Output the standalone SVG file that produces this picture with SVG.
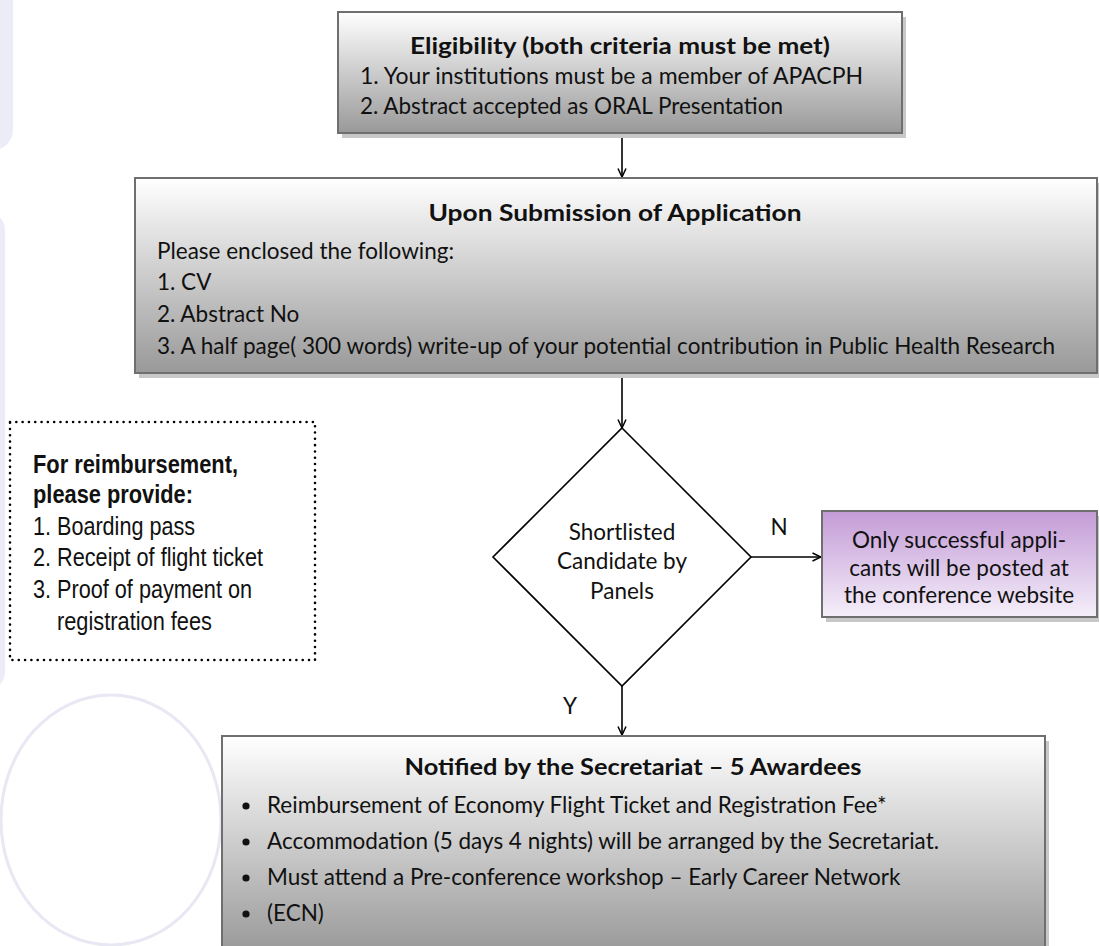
<svg xmlns="http://www.w3.org/2000/svg" width="1099" height="946" viewBox="0 0 1099 946">
<style>
.bg{fill:#ececf6}
.ring{fill:none;stroke:#e8e8f4;stroke-width:3}
.box{stroke:#6f6f6f;stroke-width:2}
.shadow{fill:#c8c8c8}
.t{font-family:Lato,'Noto Sans',sans-serif;font-size:22.5px;fill:#111}
.b{font-weight:bold;font-size:23px}
.c{text-anchor:middle}
.conn{stroke:#000;stroke-width:1.6;fill:none}
.note{fill:none;stroke:#000;stroke-width:2.6;stroke-dasharray:0.01 6.3;stroke-linecap:round}
.ar{font-family:'Liberation Sans Narrow','Liberation Sans',Arial,sans-serif;font-size:26px;fill:#111}
</style>
<defs>
<linearGradient id="gray" x1="0" y1="0" x2="0" y2="1">
<stop offset="0" stop-color="#ffffff"/>
<stop offset="1" stop-color="#999999"/>
</linearGradient>
<linearGradient id="gray3" gradientUnits="userSpaceOnUse" x1="0" y1="736" x2="0" y2="946">
<stop offset="0" stop-color="#ffffff"/>
<stop offset="1" stop-color="#9c9c9c"/>
</linearGradient>
<linearGradient id="purple" x1="0" y1="0" x2="0" y2="1">
<stop offset="0" stop-color="#c39bd6"/>
<stop offset="1" stop-color="#f5effa"/>
</linearGradient>
<marker id="arr" viewBox="0 0 10 10" refX="9.5" refY="5" markerWidth="10" markerHeight="10" markerUnits="userSpaceOnUse" orient="auto">
<path d="M1,1 L9.5,5 L1,9" fill="none" stroke="#000" stroke-width="1.5"/>
</marker>
</defs>

<g id="background">
<rect class="bg" x="-30" y="-30" width="43" height="180" rx="20"/>
<rect class="bg" x="-30" y="212" width="35" height="478" rx="18"/>
<ellipse class="ring" cx="111" cy="820" rx="110" ry="125"/>
</g>

<g id="connectors">
<line class="conn" x1="622" y1="133" x2="622" y2="177" marker-end="url(#arr)"/>
<line class="conn" x1="622" y1="373" x2="622" y2="428" marker-end="url(#arr)"/>
<line class="conn" x1="751" y1="557" x2="821" y2="557" marker-end="url(#arr)"/>
<line class="conn" x1="622" y1="686" x2="622" y2="735" marker-end="url(#arr)"/>
<text class="t" x="779" y="535" text-anchor="middle">N</text>
<text class="t" x="570" y="714" text-anchor="middle">Y</text>
</g>

<g id="eligibility">
<rect class="shadow" x="342" y="17" width="564" height="121"/>
<rect class="box" x="338" y="12" width="564" height="121" fill="url(#gray)"/>
<text class="t b c" x="620" y="54" textLength="420" lengthAdjust="spacingAndGlyphs">Eligibility (both criteria must be met)</text>
<text class="t" x="360" y="84" textLength="503" lengthAdjust="spacingAndGlyphs">1. Your institutions  must be a member of APACPH</text>
<text class="t" x="360" y="114" textLength="423" lengthAdjust="spacingAndGlyphs">2. Abstract accepted as ORAL Presentation</text>
</g>

<g id="submission">
<rect class="shadow" x="139" y="183" width="962" height="195"/>
<rect class="box" x="135" y="178" width="962" height="195" fill="url(#gray)"/>
<text class="t b c" x="615" y="221" textLength="373" lengthAdjust="spacingAndGlyphs">Upon Submission of Application</text>
<text class="t" x="157" y="259">Please enclosed the following:</text>
<text class="t" x="157" y="290">1. CV</text>
<text class="t" x="157" y="322">2. Abstract No</text>
<text class="t" x="157" y="354" textLength="898" lengthAdjust="spacingAndGlyphs">3. A half page( 300 words) write-up of your potential contribution in Public Health Research</text>
</g>

<g id="decision">
<polygon points="622,428 751,557 622,686 493,557" fill="#ffffff" stroke="#000" stroke-width="1.6"/>
<text class="t c" x="622" y="540" font-size="23">Shortlisted</text>
<text class="t c" x="622" y="569" font-size="23">Candidate by</text>
<text class="t c" x="622" y="599" font-size="23">Panels</text>
</g>

<g id="unsuccessful">
<rect class="shadow" x="826" y="516" width="275" height="106"/>
<rect class="box" x="822" y="511" width="275" height="106" fill="url(#purple)"/>
<text class="t c" x="959" y="548">Only successful appli-</text>
<text class="t c" x="959" y="576">cants will be posted at</text>
<text class="t c" x="959" y="603">the conference website</text>
</g>

<g id="reimbursement">
<rect class="note" x="10" y="422" width="305" height="238"/>
<text class="ar b" x="33" y="473" font-size="26" textLength="205" lengthAdjust="spacingAndGlyphs">For reimbursement,</text>
<text class="ar b" x="33" y="503" font-size="26" textLength="160" lengthAdjust="spacingAndGlyphs">please provide:</text>
<text class="ar" x="33" y="535" textLength="162" lengthAdjust="spacingAndGlyphs">1. Boarding pass</text>
<text class="ar" x="33" y="566" textLength="230" lengthAdjust="spacingAndGlyphs">2. Receipt of flight ticket</text>
<text class="ar" x="33" y="598" textLength="219" lengthAdjust="spacingAndGlyphs">3. Proof of payment on</text>
<text class="ar" x="57" y="630" textLength="155" lengthAdjust="spacingAndGlyphs">registration fees</text>
</g>

<g id="awardees">
<rect class="shadow" x="226" y="741" width="823" height="230"/>
<rect class="box" x="222" y="736" width="823" height="230" fill="url(#gray3)"/>
<text class="t b c" x="633" y="775" textLength="457" lengthAdjust="spacingAndGlyphs">Notified by the Secretariat – 5 Awardees</text>
<circle cx="246" cy="806" r="3.6" fill="#111"/>
<text class="t" x="267" y="813">Reimbursement of  Economy Flight Ticket and Registration Fee*</text>
<circle cx="246" cy="842" r="3.6" fill="#111"/>
<text class="t" x="267" y="849" textLength="672" lengthAdjust="spacingAndGlyphs">Accommodation (5 days 4 nights) will be arranged by the Secretariat.</text>
<circle cx="246" cy="878" r="3.6" fill="#111"/>
<text class="t" x="267" y="885">Must attend a Pre-conference workshop – Early Career Network</text>
<circle cx="246" cy="914" r="3.6" fill="#111"/>
<text class="t" x="267" y="921">(ECN)</text>
</g>
</svg>
